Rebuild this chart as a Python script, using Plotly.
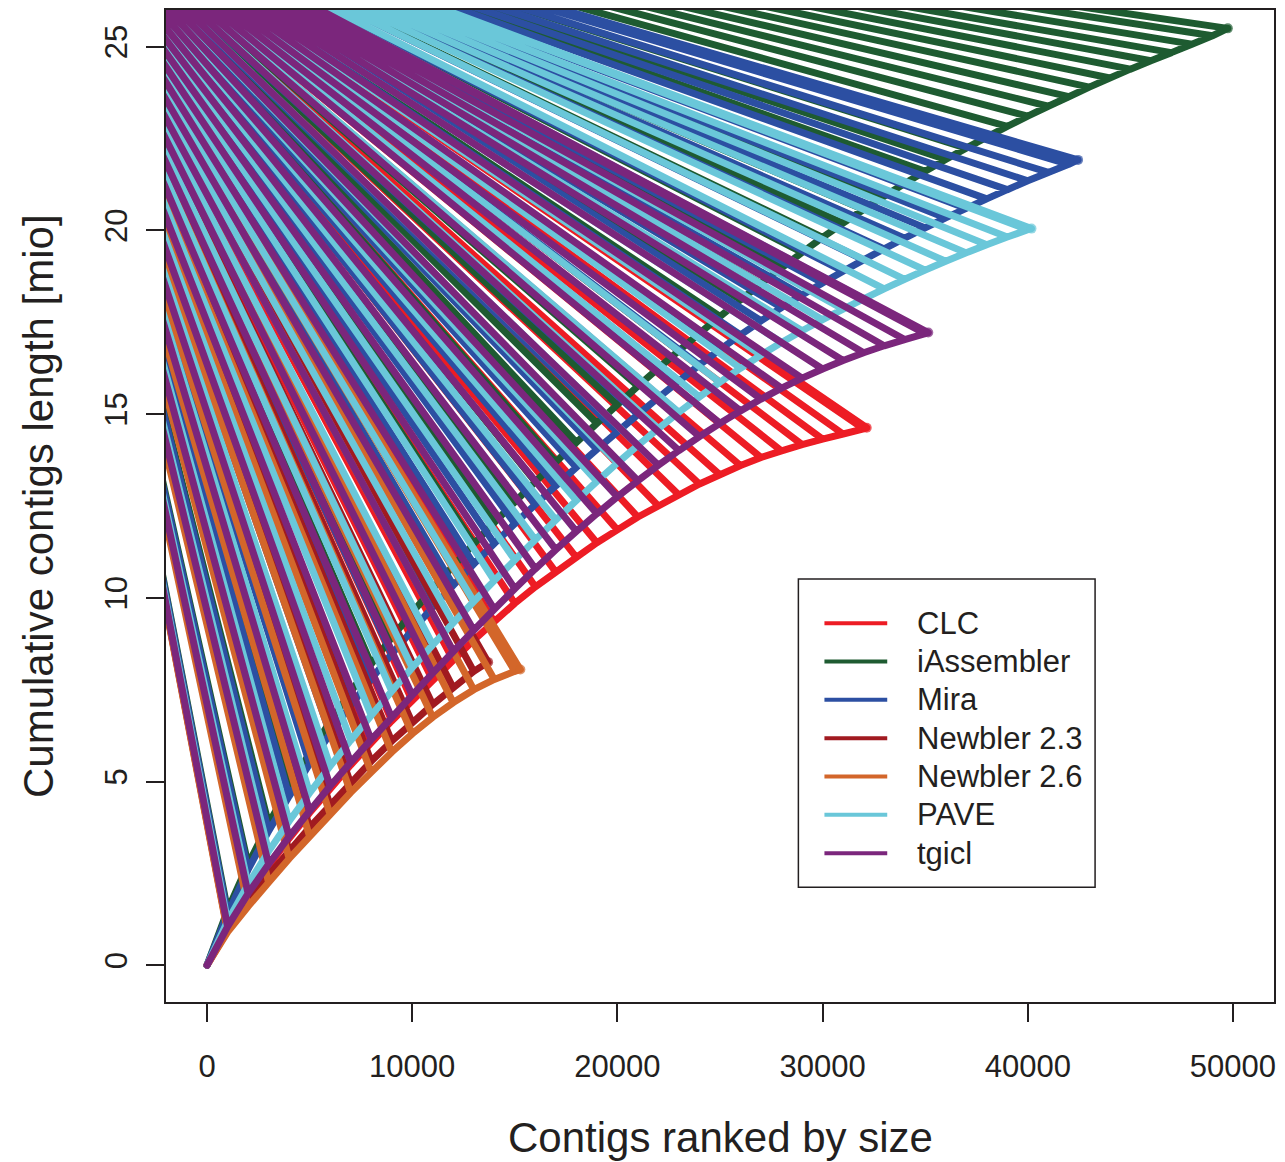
import plotly.graph_objects as go

# Cumulative contig length (millions of bases) against contig rank, one
# sample every 1000 contigs plus the final contig of each assembly.
CLC_RANKS = [*range(0, 33000, 1000), 32150]
CLC_MIO = [0, 1.0, 1.9, 2.7, 3.45, 4.15, 4.8, 5.45, 6.05, 6.65, 7.2, 7.75, 8.3,
           8.85, 9.35, 9.85, 10.3, 10.7, 11.1, 11.5, 11.85, 12.2, 12.5, 12.8,
           13.1, 13.35, 13.6, 13.82, 14.0, 14.17, 14.32, 14.46, 14.6, 14.63]

IASSEMBLER_RANKS = [*range(0, 50000, 1000), 49750]
IASSEMBLER_MIO = [0, 1.5, 2.75, 3.85, 4.85, 5.77, 6.63, 7.44, 8.2, 8.92, 9.6,
                  10.25, 10.87, 11.47, 12.05, 12.61, 13.16, 13.7, 14.23, 14.75,
                  15.26, 15.76, 16.25, 16.73, 17.2, 17.66, 18.11, 18.55, 18.98,
                  19.4, 19.81, 20.2, 20.57, 20.93, 21.28, 21.61, 21.93, 22.24,
                  22.54, 22.83, 23.11, 23.38, 23.64, 23.9, 24.15, 24.39, 24.62,
                  24.84, 25.07, 25.3, 25.5]

MIRA_RANKS = [*range(0, 43000, 1000), 42450]
MIRA_MIO = [0, 1.4, 2.6, 3.65, 4.6, 5.48, 6.3, 7.07, 7.79, 8.47, 9.12, 9.74,
            10.34, 10.92, 11.48, 12.02, 12.54, 13.05, 13.55, 14.04, 14.52,
            14.99, 15.45, 15.9, 16.34, 16.76, 17.16, 17.54, 17.9, 18.24, 18.57,
            18.89, 19.2, 19.5, 19.79, 20.07, 20.34, 20.6, 20.86, 21.11, 21.35,
            21.58, 21.8, 21.92]

NEWBLER23_RANKS = [*range(0, 14000, 1000), 13700]
NEWBLER23_MIO = [0, 0.95, 1.75, 2.45, 3.1, 3.75, 4.35, 4.95, 5.55, 6.1, 6.6,
                 7.1, 7.55, 8.0, 8.25]

NEWBLER26_RANKS = [*range(0, 16000, 1000), 15270]
NEWBLER26_MIO = [0, 0.9, 1.6, 2.25, 2.9, 3.5, 4.1, 4.7, 5.25, 5.8, 6.3, 6.75,
                 7.15, 7.5, 7.78, 8.0, 8.05]

PAVE_RANKS = [*range(0, 41000, 1000), 40180]
PAVE_MIO = [0, 1.2, 2.2, 3.1, 3.92, 4.69, 5.42, 6.12, 6.8, 7.46, 8.1, 8.72,
            9.32, 9.9, 10.47, 11.03, 11.58, 12.12, 12.65, 13.17, 13.67, 14.15,
            14.61, 15.05, 15.47, 15.87, 16.25, 16.61, 16.95, 17.27, 17.57,
            17.86, 18.14, 18.41, 18.67, 18.92, 19.16, 19.39, 19.61, 19.82,
            20.02, 20.05]

TGICL_RANKS = [*range(0, 36000, 1000), 35150]
TGICL_MIO = [0, 1.05, 1.95, 2.75, 3.5, 4.2, 4.88, 5.52, 6.14, 6.74, 7.35, 7.95,
             8.54, 9.12, 9.69, 10.25, 10.79, 11.31, 11.81, 12.29, 12.75, 13.19,
             13.61, 14.01, 14.39, 14.75, 15.09, 15.41, 15.71, 15.98, 16.23,
             16.46, 16.67, 16.86, 17.03, 17.19, 17.22]

ASSEMBLERS = ["CLC", "iAssembler", "Mira", "Newbler 2.3", "Newbler 2.6",
              "PAVE", "tgicl"]
RANKS = [CLC_RANKS, IASSEMBLER_RANKS, MIRA_RANKS, NEWBLER23_RANKS,
         NEWBLER26_RANKS, PAVE_RANKS, TGICL_RANKS]
LENGTHS = [CLC_MIO, IASSEMBLER_MIO, MIRA_MIO, NEWBLER23_MIO, NEWBLER26_MIO,
           PAVE_MIO, TGICL_MIO]
COLORS = ["#ED1C24", "#1E5B31", "#2C4FA2", "#A11A20", "#D3662A", "#6AC7D9",
          "#7B267C"]

# Every sample point is joined by a stroke to this far point up and left of
# the plotting region, which gives each curve its comb of slanted lines.
FAN_APEX = (-9000, 30.3)

X_TICKS = [0, 10000, 20000, 30000, 40000, 50000]
Y_TICKS = [0, 5, 10, 15, 20, 25]

INK = "#231F20"
FONT = "Liberation Sans, Arial, Helvetica, sans-serif"
LINE_W = 7


def comb_path(ranks, lengths, apex):
    xs, ys = [ranks[0]], [lengths[0]]
    for r, v in zip(ranks[1:], lengths[1:]):
        xs += [r, apex[0], r]
        ys += [v, apex[1], v]
    return xs, ys


fig = go.Figure()
for name, ranks, mio, color in zip(ASSEMBLERS, RANKS, LENGTHS, COLORS):
    xs, ys = comb_path(ranks, mio, FAN_APEX)
    # round dot only on the last contig of the curve
    dot_sizes = [0] * (len(xs) - 1) + [LINE_W + 3]
    fig.add_trace(go.Scatter(
        x=xs, y=ys, mode="lines+markers", name=name, showlegend=False,
        line=dict(color=color, width=LINE_W, simplify=False),
        marker=dict(color=color, size=dot_sizes, line=dict(width=0)),
        hoverinfo="skip",
    ))

# Legend box drawn in data space, bottom right of the plot
LEG_X0, LEG_X1 = 28820, 43280
LEG_Y0, LEG_Y1 = 2.12, 10.51
LEG_LINE_X0, LEG_LINE_X1 = 30090, 33150
LEG_TEXT_X = 34500
LEG_ROW0, LEG_ROW_STEP = 9.31, 1.043

shapes = [dict(type="rect", xref="x", yref="y", x0=LEG_X0, x1=LEG_X1,
               y0=LEG_Y0, y1=LEG_Y1, line=dict(color=INK, width=1.5),
               fillcolor="white", layer="above")]
annotations = []
for i, (name, color) in enumerate(zip(ASSEMBLERS, COLORS)):
    yy = LEG_ROW0 - i * LEG_ROW_STEP
    shapes.append(dict(type="line", xref="x", yref="y", x0=LEG_LINE_X0,
                       x1=LEG_LINE_X1, y0=yy, y1=yy, layer="above",
                       line=dict(color=color, width=4)))
    annotations.append(dict(x=LEG_TEXT_X, y=yy, xref="x", yref="y", text=name,
                            showarrow=False, xanchor="left", yanchor="middle",
                            font=dict(size=31, family=FONT, color=INK)))

annotations.append(dict(x=0.5, y=-0.137, xref="paper", yref="paper",
                        text="Contigs ranked by size", showarrow=False,
                        xanchor="center", yanchor="middle",
                        font=dict(size=42, family=FONT, color=INK)))
annotations.append(dict(x=-0.1155, y=0.5, xref="paper", yref="paper",
                        text="Cumulative contigs length [mio]", showarrow=False,
                        textangle=-90, xanchor="center", yanchor="middle",
                        font=dict(size=42, family=FONT, color=INK)))

axis_common = dict(showgrid=False, zeroline=False, showline=True, mirror=True,
                   linecolor=INK, linewidth=1.5, ticks="outside", ticklen=18,
                   tickwidth=1.5, tickcolor=INK,
                   tickfont=dict(size=31, family=FONT, color=INK))

fig.update_layout(
    width=1285, height=1162,
    margin=dict(l=166, r=11, t=8, b=160),
    paper_bgcolor="white", plot_bgcolor="white",
    xaxis=dict(range=[-2000, 52000], tickvals=X_TICKS,
               ticktext=[str(v) for v in X_TICKS], ticklabelstandoff=18,
               **axis_common),
    yaxis=dict(range=[-1, 26], tickvals=Y_TICKS,
               ticktext=[str(v) for v in Y_TICKS], tickangle=-90,
               ticklabelstandoff=7, **axis_common),
    shapes=shapes,
    annotations=annotations,
)

# Rounded joins and caps on the plotted strokes
fig.write_html(
    "out.html",
    post_script=(
        "var s=document.createElement('style');"
        "s.textContent='.scatterlayer path.js-line{stroke-linejoin:round"
        " !important;stroke-linecap:round !important;}';"
        "document.head.appendChild(s);"
    ),
)
